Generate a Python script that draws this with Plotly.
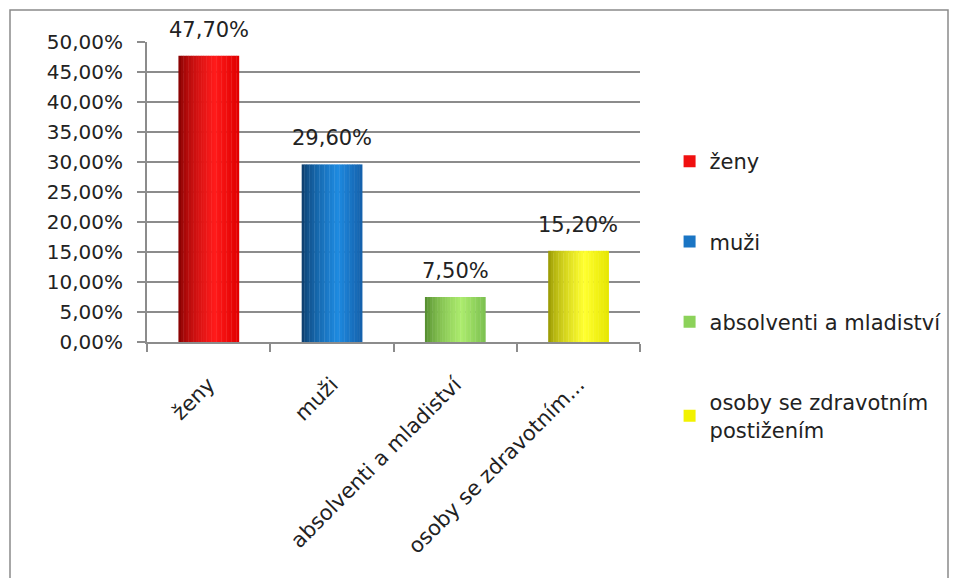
import plotly.graph_objects as go

categories = ["ženy", "muži", "absolventi a mladiství", "osoby se zdravotním postižením"]
tick_labels = ["ženy", "muži", "absolventi a mladiství", "osoby se zdravotním..."]
legend_names = ["ženy", "muži", "absolventi a mladiství", "osoby se zdravotním<br>postižením"]
values = [0.477, 0.296, 0.075, 0.152]
# shading stops for cylinder look: (left edge, highlight, right edge)
shades = [
    ("#7A0000", "#FF1A1A", "#E00000"),
    ("#0A3560", "#1E8AE0", "#1560AA"),
    ("#4A8228", "#ACEC6E", "#7CC050"),
    ("#8E8E00", "#FFFF30", "#E6E600"),
]
legend_colors = ["#F01010", "#1A75C4", "#8CD25A", "#F2F200"]

BAR_W = 0.49
N = 24


def hex2rgb(h):
    h = h.lstrip("#")
    return [int(h[i:i + 2], 16) for i in (0, 2, 4)]


def mix(c1, c2, t):
    a, b = hex2rgb(c1), hex2rgb(c2)
    return "rgb(%d,%d,%d)" % tuple(round(a[k] + (b[k] - a[k]) * t) for k in range(3))


def shade_at(s, pos):
    left, hi, right = s
    peak = 0.6
    if pos <= peak:
        return mix(left, hi, (pos / peak) ** 0.6)
    return mix(hi, right, (pos - peak) / (1 - peak))


def fmt_pct(v):
    return ("%.2f" % (v * 100)).replace(".", ",") + "%"


fig = go.Figure()
for i, (cat, val) in enumerate(zip(categories, values)):
    for k in range(N):
        pos = (k + 0.5) / N
        fig.add_trace(go.Bar(
            x=[cat], y=[val],
            marker=dict(color=shade_at(shades[i], pos), line=dict(width=0)),
            width=BAR_W / N + 0.003, offset=-BAR_W / 2 + k * BAR_W / N,
            showlegend=False, hoverinfo="skip",
        ))
    fig.add_trace(go.Bar(
        x=[None], y=[None], name=legend_names[i],
        marker=dict(color=legend_colors[i], line=dict(width=0)),
        showlegend=True, legendgroup=str(i),
    ))
    fig.add_annotation(x=cat, y=val, text=fmt_pct(val), showarrow=False,
                       yanchor="bottom", yshift=12,
                       font=dict(size=21, color="#222"))

fig.update_layout(
    width=957, height=578,
    margin=dict(l=139, r=325, t=34, b=244),
    paper_bgcolor="white", plot_bgcolor="white",
    barmode="overlay",
    separators=", ",
    font=dict(family="DejaVu Sans", size=21, color="#222"),
    showlegend=True,
    legend=dict(x=1.06, y=0.67, yanchor="top", xanchor="left",
                tracegroupgap=50, font=dict(size=21), itemwidth=30,
                maxheight=520),
    shapes=[dict(type="rect", xref="paper", yref="paper",
                 x0=(2 - 139) / 493, x1=(940 - 139) / 493, y0=-0.9, y1=(334 - 2) / 300,
                 line=dict(color="#8a8a8a", width=1.5), layer="below")],
)
fig.update_yaxes(range=[0, 0.5], dtick=0.05, tickformat=".2%",
                 showgrid=True, gridcolor="#8c8c8c", gridwidth=2,
                 showline=True, linecolor="#8c8c8c", linewidth=2,
                 ticks="outside", tickcolor="#8c8c8c", ticklen=8, tickwidth=2,
                 ticklabelstandoff=10,
                 zeroline=False, tickfont=dict(size=20))
fig.update_xaxes(tickvals=categories, ticktext=tick_labels, tickangle=-45,
                 showline=True, linecolor="#8c8c8c", linewidth=2,
                 ticks="outside", tickson="boundaries", tickcolor="#8c8c8c",
                 ticklen=8, tickwidth=2, ticklabelstandoff=20,
                 tickfont=dict(size=21))

fig.write_html("out.html")
